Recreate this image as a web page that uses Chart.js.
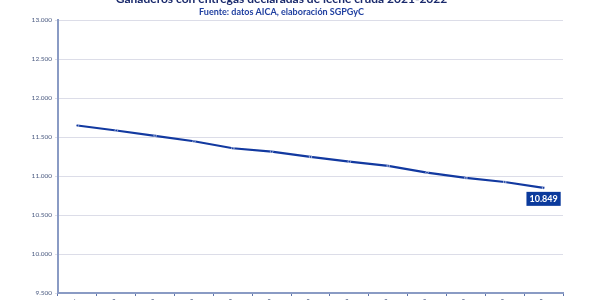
<!DOCTYPE html>
<html><head><meta charset="utf-8">
<script src="https://cdn.jsdelivr.net/npm/chart.js@4/dist/chart.umd.min.js"></script>
<style>
html,body{margin:0;padding:0;width:600px;height:300px;overflow:hidden;background:#fff;}
#wrap{position:absolute;left:0;top:-13px;width:600px;height:361px;}
</style></head>
<body><div id="wrap"><canvas id="c"></canvas></div>
<script>
const titleText = 'Ganaderos con entregas declaradas de leche cruda 2021-2022';
const subtitleText = 'Fuente: datos AICA, elaboración SGPGyC';
const categories = ['dic-21','ene-22','feb-22','mar-22','abr-22','may-22','jun-22','jul-22','ago-22','sep-22','oct-22','nov-22','dic-22'];
const ganaderos = [11649, 11585, 11516, 11447, 11357, 11314, 11246, 11186, 11130, 11044, 10976, 10924, 10849];
const yMin = 9500, yMax = 13000, yStep = 500;

function fmt(v){ return String(Math.round(v)).replace(/\B(?=(\d{3})+(?!\d))/g,'.'); }

const lastLabel = {
  id:'lastLabel',
  afterDatasetsDraw(chart){
    const meta = chart.getDatasetMeta(0);
    const i = meta.data.length-1;
    const p = meta.data[i];
    const ctx = chart.ctx;
    const txt = fmt(chart.data.datasets[0].data[i]);
    ctx.save();
    ctx.font = 'bold 9px Lato, "Open Sans", sans-serif';
    const w = ctx.measureText(txt).width + 6;
    const h = 14;
    const x = p.x - w/2, y = p.y + 4;
    ctx.fillStyle = '#0b3a9c';
    ctx.fillRect(x, y, w, h);
    ctx.fillStyle = '#ffffff';
    ctx.textAlign = 'center';
    ctx.textBaseline = 'middle';
    ctx.fillText(txt, p.x, y + h/2 + 0.5);
    ctx.restore();
  }
};

new Chart(document.getElementById('c'), {
  type:'line',
  data:{ labels:categories, datasets:[{
    data:ganaderos, borderColor:'#1239a0', borderWidth:2.2,
    pointRadius:1.3, pointBackgroundColor:'#1239a0', pointBorderColor:'rgba(255,255,255,0.7)', pointBorderWidth:0.8,
    tension:0, fill:false
  }]},
  options:{
    responsive:true, maintainAspectRatio:false, animation:false,
    layout:{padding:{left:0,right:37,top:0,bottom:0}},
    plugins:{
      legend:{display:false}, tooltip:{enabled:false},
      title:{display:true, text:titleText, color:'#1a2a6c', font:{family:'Lato, "Open Sans", sans-serif', size:12, weight:'bold'}, padding:{top:5,bottom:0}},
      subtitle:{display:true, text:subtitleText, color:'#1f3fa0', font:{family:'Lato, "Open Sans", sans-serif', size:9, weight:'bold'}, padding:{top:0,bottom:3}}
    },
    scales:{
      x:{ offset:true,
        grid:{display:true, drawOnChartArea:false, drawTicks:true, tickLength:3, offset:true, color:'#5f74aa'},
        border:{color:'#8a9bc4', width:2},
        ticks:{color:'#4a5a80', font:{size:7, family:'Lato, sans-serif'}, minRotation:45, maxRotation:45, autoSkip:false, padding:1},
        afterFit(s){ s.height = 55; }
      },
      y:{ min:yMin, max:yMax,
        grid:{color:'#dcdde8', lineWidth:1, tickLength:3, drawTicks:true},
        border:{color:'#8a9bc4', width:2},
        ticks:{stepSize:yStep, color:'#4a5a80', font:{size:6.5, family:'Lato, sans-serif'}, padding:3, callback:(v)=>fmt(v)},
        afterFit(s){ s.width = 58; }
      }
    }
  },
  plugins:[lastLabel]
});
</script></body></html>
